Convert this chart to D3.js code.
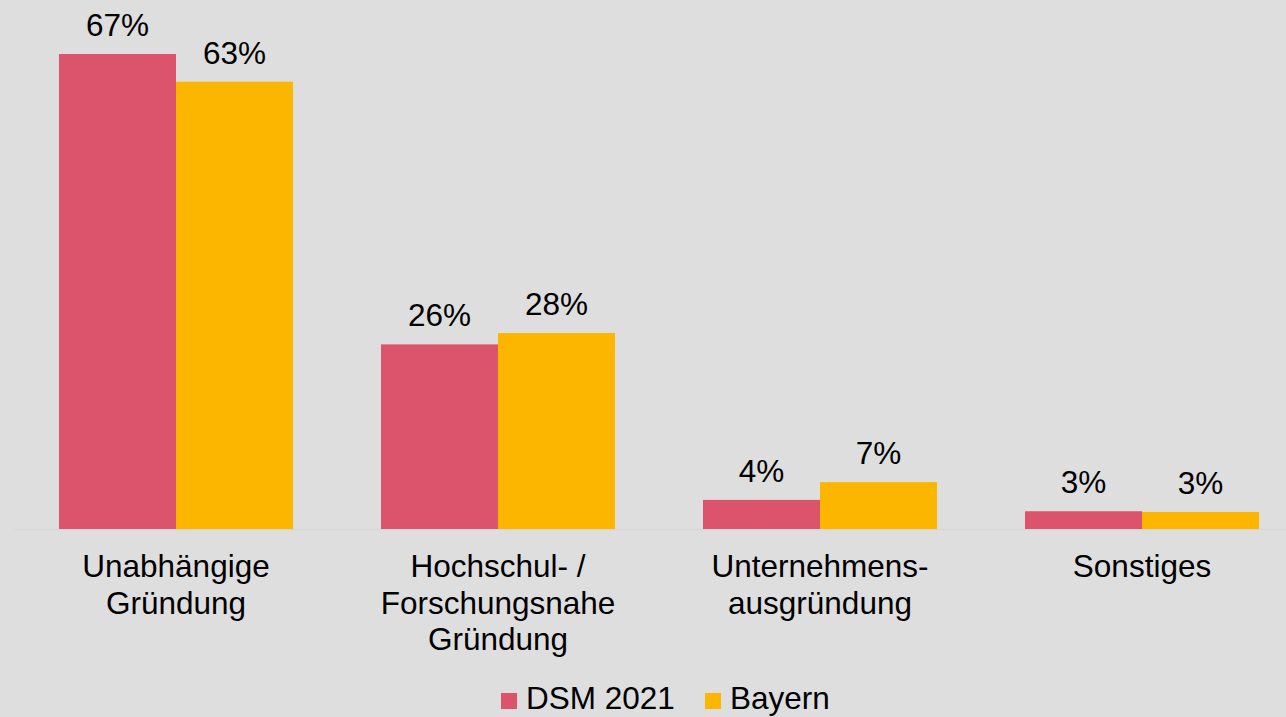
<!DOCTYPE html>
<html>
<head>
<meta charset="utf-8">
<script src="https://cdn.jsdelivr.net/npm/d3@7"></script>
<style>
  html, body { margin: 0; padding: 0; background: #dedede; }
  svg { display: block; font-family: Arial, "Liberation Sans", sans-serif; }
</style>
</head>
<body>
<svg id="chart"></svg>
<script>
const categories = [
    ["Unabhängige", "Gründung"],
    ["Hochschul- /", "Forschungsnahe", "Gründung"],
    ["Unternehmens-", "ausgründung"],
    ["Sonstiges"]
];
const seriesNames = ["DSM 2021", "Bayern"];
const dsmValues = [66.9, 26.0, 4.1, 2.5];
const bayernValues = [63.0, 27.6, 6.6, 2.4];
const dsmLabels = ["67%", "26%", "4%", "3%"];
const bayernLabels = ["63%", "28%", "7%", "3%"];
const colors = ["#dc546b", "#fdb600"];

const width = 1286, height = 717;
const baseY = 529;
const fontSize = '31.5px';

const svg = d3.select('#chart')
    .attr('width', width)
    .attr('height', height);

svg.append('rect')
    .attr('width', width)
    .attr('height', height)
    .attr('fill', '#dedede');

const catIndex = categories.map((c, i) => i);

const x0 = d3.scaleBand()
    .domain(catIndex)
    .range([15, 1303])
    .paddingInner(0.2733)
    .paddingOuter(0.1366);

const x1 = d3.scaleBand()
    .domain([0, 1])
    .range([0, x0.bandwidth()]);

const y = d3.scaleLinear()
    .domain([0, 70])
    .range([baseY, baseY - 70 * 7.1]);

const series = [
    { values: dsmValues, labels: dsmLabels },
    { values: bayernValues, labels: bayernLabels }
];

//baseline
svg.append('line')
    .attr('x1', 15).attr('x2', width)
    .attr('y1', baseY + 0.5).attr('y2', baseY + 0.5)
    .attr('stroke', '#d6d6d6')
    .attr('stroke-width', 1.5);

series.forEach((s, si) => {
    const g = svg.append('g');
    g.selectAll('rect')
        .data(s.values)
        .enter().append('rect')
        .attr('x', (d, i) => x0(i) + x1(si))
        .attr('y', d => y(d))
        .attr('width', x1.bandwidth())
        .attr('height', d => baseY - y(d))
        .attr('fill', colors[si]);

    g.selectAll('text')
        .data(s.values)
        .enter().append('text')
        .attr('x', (d, i) => x0(i) + x1(si) + x1.bandwidth() / 2)
        .attr('y', d => y(d) - 18)
        .attr('text-anchor', 'middle')
        .attr('font-size', fontSize)
        .attr('fill', '#000')
        .text((d, i) => s.labels[i]);
});

//category labels
const catG = svg.append('g');
categories.forEach((lines, i) => {
    const t = catG.append('text')
        .attr('text-anchor', 'middle')
        .attr('font-size', fontSize)
        .attr('fill', '#000');
    lines.forEach((line, li) => {
        t.append('tspan')
            .attr('x', x0(i) + x0.bandwidth() / 2)
            .attr('y', 577 + li * 36.5)
            .text(line);
    });
});

//legend
const legendX = [501, 705];
seriesNames.forEach((name, i) => {
    svg.append('rect')
        .attr('x', legendX[i])
        .attr('y', 693)
        .attr('width', 16)
        .attr('height', 16)
        .attr('fill', colors[i]);
    svg.append('text')
        .attr('x', legendX[i] + 25)
        .attr('y', 709)
        .attr('font-size', fontSize)
        .attr('fill', '#000')
        .text(name);
});
</script>
</body>
</html>
